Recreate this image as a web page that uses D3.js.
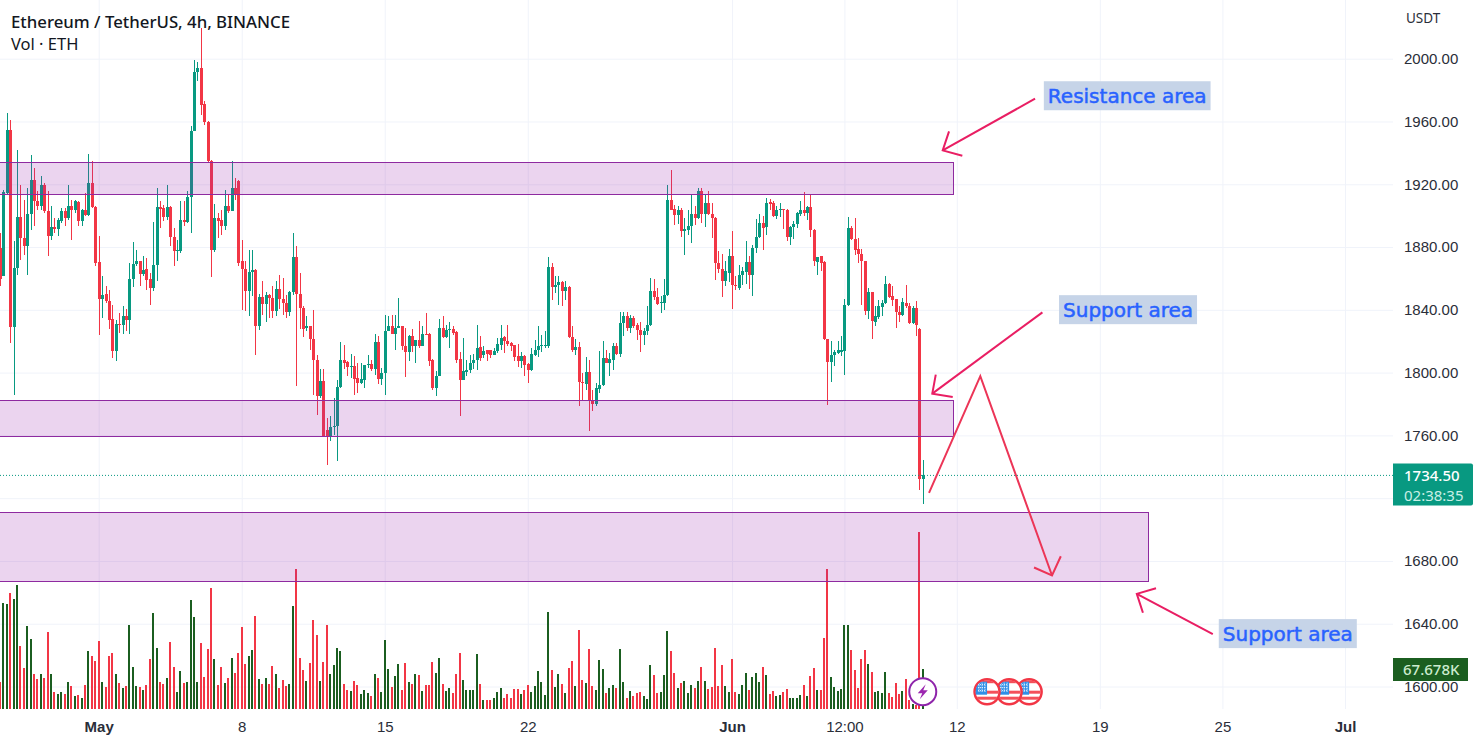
<!DOCTYPE html>
<html>
<head>
<meta charset="utf-8">
<title>ETHUSDT 4h</title>
<script src="https://cdn.jsdelivr.net/npm/d3@7"></script>
<style>
    html, body { margin: 0; padding: 0; background: #fff; }
    svg { display: block; font-family: "Noto Sans", sans-serif; }
    .grid line { stroke: #f0f3fa; }
    .grid .domain { display: none; }
    .axis .domain, .axis line { display: none; }
    .axis text { fill: #2a2e39; font-size: 15px; }
</style>
</head>
<body>
<svg id="chart" width="1479" height="747"></svg>
<script>
// candles, 4h, first one is 29 bars before 1 May
const firstBarDay = -29 / 6;
const opens = [
    1879.4,1861.8,1914.5,1954.8,1828.9,1866.7,1899.2,1886,1880.9,1901.3,
    1923,1909.6,1906,1919.8,1902.8,1887.3,1892.6,1891.5,1896.4,1903.2,
    1898.5,1906.4,1903.4,1908.5,1896.4,1903.9,1900.7,1920.8,1905.5,1870.5,
    1847,1850.3,1845.5,1834.2,1813.6,1831.2,1830.6,1835.9,1833.8,1859.7,
    1869.2,1871,1863.1,1866,1859.7,1854,1868.8,1905.5,1904.9,1899.2,
    1905.5,1886.4,1877.3,1877.3,1897.5,1895.8,1911.9,1954.2,1991.5,1994.1,
    1971.1,1959.7,1934.6,1878,1898.5,1897.5,1893.2,1906.4,1902.8,1917.7,
    1921.9,1871.3,1866,1851.8,1863.9,1865.6,1829.5,1848,1844,1849.7,
    1847.6,1839.5,1853.3,1846.9,1844.4,1838.4,1851.4,1873.7,1850.1,1841.2,
    1828.5,1829.5,1821.5,1808.3,1785,1794.5,1763.7,1759.9,1765.4,1765.8,
    1790.9,1808.3,1806.6,1803.4,1804.5,1796.6,1793.4,1795.6,1804.7,1805.7,
    1802,1819.5,1796.2,1799.8,1826.8,1829.5,1824.9,1828.7,1829.5,1817.2,
    1813.4,1823.6,1816.8,1821,1817.2,1824.9,1824.6,1808.3,1790.3,1797.7,
    1828.5,1822.5,1826.9,1827.8,1825.9,1808.7,1795.6,1800.6,1801.5,1806.2,
    1807.9,1816.2,1811.5,1814.1,1814.1,1811.5,1813.6,1817.9,1822.5,1820,
    1818.7,1817.7,1810.4,1807.7,1810.4,1805.6,1801.5,1811.5,1814.3,1816.8,
    1817.2,1817.2,1867.1,1854.4,1855.5,1858,1851.8,1854.6,1822.8,1814.3,
    1816.4,1793.9,1793,1800.5,1782.8,1779.7,1789.8,1792,1809.4,1805.8,
    1808.3,1817.2,1812.1,1831.7,1836.3,1828.5,1834.9,1830.6,1827.4,1823.8,
    1826.4,1830.2,1851.8,1848.2,1844.4,1844.4,1849.7,1909.8,1904.3,1900.2,
    1903.9,1890,1891.1,1893.7,1901.1,1898.3,1916,1901.1,1908.1,1901.1,
    1898.5,1869.9,1866,1858.2,1863.5,1874.6,1855.9,1854,1862,1863.9,
    1870.3,1862,1879.4,1886.2,1895.4,1892.6,1908.5,1908.1,1900,1903.4,
    1904.3,1903.9,1886.2,1892.6,1894.7,1901.1,1903.9,1901.7,1905.6,1891.1,
    1870.3,1874.1,1870.3,1821.5,1806.8,1810.9,1812.6,1813.4,1813.6,1842.9,
    1892.2,1885.2,1878.8,1875.6,1871.4,1839.1,1851.2,1832.3,1835.3,1841.9,
    1844.4,1856.7,1848.7,1847,1838.7,1837,1844.4,1842.7,1831.7,1841.2,
    1827.9,1732.3
];
const highs = [
    1889,1916.6,1965.4,1961.2,1883.7,1942.1,1919.8,1910.2,1917.7,1938.9,
    1930.4,1915.5,1925.1,1920.8,1915.5,1906,1898.5,1898.5,1904.9,1904.9,
    1919.8,1910.2,1910.2,1909.2,1904,1914.5,1939.5,1934.6,1906,1887.3,
    1861.4,1855,1852.9,1843.3,1833.8,1838,1842.3,1840.6,1869.9,1883,
    1878,1871,1874.1,1873,1863.5,1895.8,1917.7,1909.2,1907,1919.8,
    1906,1892.2,1884.7,1909.2,1909.2,1915.5,1956.9,1999.4,1997.9,2019.6,
    1972.8,1960.1,1935.7,1907.7,1901.7,1903.9,1916.2,1913.4,1934.6,1924,
    1923,1884.7,1870.9,1878.4,1877.9,1866,1850.1,1858.2,1851.4,1850.1,
    1855.4,1858.6,1862.4,1860.3,1849.7,1851.8,1889,1880.9,1863.5,1842.3,
    1836.3,1830,1839.7,1811.5,1802,1802.4,1771.1,1772.6,1783.9,1795.6,
    1819.3,1817.9,1807.2,1812.1,1810.8,1806.2,1806.2,1805.1,1811,1808.3,
    1824.6,1823.2,1803,1837,1835.9,1837,1837,1847.6,1830,1828.5,
    1824.2,1827.8,1821,1833.1,1829.5,1838,1825.3,1808.7,1800.9,1834.2,
    1836.3,1830.6,1832.3,1830,1826.3,1813,1822.1,1808.3,1811.5,1812.1,
    1830.6,1823.2,1816.8,1814.7,1814.3,1815.7,1822.1,1830.2,1823.2,1830.2,
    1819.4,1817.9,1818.5,1813,1811.5,1806.2,1815.7,1821,1829.6,1824.2,
    1826.4,1873.5,1869.9,1861.4,1861.4,1858.2,1858.2,1855,1829.6,1821.7,
    1819.4,1800,1810,1808.3,1789.2,1793.5,1813.6,1820,1814.7,1812.6,
    1818.9,1818.9,1838.5,1838.5,1838.5,1837,1835.9,1831.7,1832.1,1828.5,
    1842.3,1860.3,1859.7,1854,1848.7,1859.7,1919.8,1928.9,1907,1906,
    1904.9,1898.5,1903.4,1913.4,1906,1917.7,1917.7,1913.4,1915.5,1908.1,
    1899.2,1877.3,1875.8,1870.9,1878.8,1890,1861.8,1868.8,1867.3,1883.7,
    1874.6,1881.6,1897.9,1901.3,1899.6,1911.3,1910.6,1909.2,1906,1908.1,
    1904.5,1904.3,1893.2,1896.4,1902.2,1909.2,1915.1,1906,1913.4,1891.5,
    1873.7,1874.6,1870.9,1821.7,1820,1814.7,1820,1823.6,1847,1899.2,
    1893.2,1898.5,1885.8,1878.8,1871.4,1854,1851.2,1842.3,1846.5,1846.5,
    1861.4,1857.2,1855,1847,1842.3,1847.6,1856.1,1844.4,1842.3,1845.5,
    1828.5,1744
];
const lows = [
    1855,1861.4,1914,1818.9,1786,1862.5,1872,1875.2,1862.5,1891.1,
    1893.2,1903.9,1903.9,1901.7,1874.6,1884.3,1889,1886.9,1895.4,1893.2,
    1897.5,1884.3,1901.7,1893.2,1893.2,1899.6,1899.6,1904.9,1867.8,1824.2,
    1834.9,1844.4,1827.8,1809.4,1807.3,1825.3,1824.7,1826.4,1824.7,1854.6,
    1867.8,1855,1861.4,1852.9,1843.3,1851.8,1858.2,1892.2,1896.4,1897.5,
    1880.5,1867.8,1871,1876.2,1893.2,1895,1889,1953.7,1985.6,1964.4,
    1958,1933.6,1861,1876.7,1885.6,1887.9,1891.1,1901.7,1902.8,1910.2,
    1867.8,1840.1,1839,1835.9,1848.6,1811.5,1827.4,1837,1832,1834.8,
    1834.8,1835.9,1840.6,1837,1834.8,1835.9,1849.7,1791.3,1827.8,1822.7,
    1826.3,1814.7,1786,1773.3,1783.9,1759.5,1741,1756.3,1760.5,1743.5,
    1790.3,1802,1797.7,1796.6,1786,1787.1,1793,1790.3,1803,1800.9,
    1798.7,1792.8,1792.4,1786,1826.3,1824.9,1814.7,1828.5,1814.7,1797,
    1807.2,1813,1806.2,1815.7,1816.8,1824.2,1804,1789.2,1785,1797.7,
    1822.1,1822.1,1815.7,1824.2,1806.2,1772.2,1795.6,1797.7,1799.8,1802,
    1801.5,1807.7,1809.4,1807.7,1809.4,1811.5,1812.6,1814.7,1812.6,1816.8,
    1813.6,1807.3,1803.7,1803,1798.1,1793.5,1800.9,1810.4,1810,1813,
    1815.7,1815.7,1846.5,1850.8,1843.3,1842.7,1846.5,1822.1,1813,1811.5,
    1778.6,1781.8,1789.2,1762.7,1775.4,1778.6,1787.1,1791.3,1805.8,1797.7,
    1801.9,1811.5,1810,1823.6,1826.4,1825.3,1828.5,1821,1813,1817.9,
    1824.2,1830,1846.5,1843.3,1838,1840.2,1848.7,1903.4,1894.3,1894.7,
    1886.4,1874.8,1887.9,1882.6,1894.3,1897.9,1895.4,1892.6,1900.7,1885.8,
    1858.8,1863.5,1848,1855,1857.6,1840.8,1852.5,1852.9,1855.5,1856.7,
    1853.3,1848.7,1876.3,1885.8,1878,1887.9,1903.4,1899.2,1897.9,1899.2,
    1891.5,1883.7,1881.6,1885.2,1892.2,1899.6,1900,1897,1886.2,1867.8,
    1862.5,1864.6,1820.6,1779.2,1793.9,1804.1,1812.1,1810.4,1798.3,1842.7,
    1884.7,1875.2,1869.9,1843.3,1837,1834.2,1821.7,1829.6,1834.2,1835.9,
    1844,1847.6,1842.3,1828.5,1832.1,1835.9,1841.2,1831.2,1831.2,1823.2,
    1725.5,1716
];
const closes = [
    1859.7,1914.9,1954.8,1828.9,1866.7,1899.2,1885.6,1880.9,1901.3,1923,
    1909.2,1906,1919.8,1902.8,1887.3,1892.6,1891.5,1897.1,1903.2,1898.5,
    1906.4,1903.4,1909.2,1896.4,1903.9,1900.7,1920.8,1905.5,1869.9,1847,
    1849.7,1845.5,1833.8,1813.6,1831.2,1830.6,1835.9,1833.8,1859.7,1869.2,
    1871,1863.1,1865.6,1859.3,1854,1868.8,1905.5,1904.5,1899.2,1905.5,
    1886.4,1877.3,1878,1897.5,1895.8,1911.9,1954.2,1991.5,1994.1,1970.7,
    1959.7,1934.6,1878.4,1898.5,1896.4,1893.2,1906.4,1902.8,1917.7,1913.4,
    1869.9,1866,1851.8,1863.9,1865.6,1829.5,1848,1844,1849.7,1847.6,
    1839.5,1853.3,1846.9,1844.4,1838.4,1851.4,1873.7,1850.3,1841.2,1827.8,
    1829.5,1821.5,1807.9,1785,1794.5,1759.9,1759.9,1765.4,1765.8,1790.9,
    1808.3,1806.2,1803.4,1804,1796.2,1793.4,1796.2,1804.7,1805.7,1802,
    1819.5,1796.2,1799.8,1826.8,1829.5,1824.9,1828.5,1829.5,1816.8,1813.4,
    1823.6,1816.8,1821,1817.2,1824.6,1824.2,1807.7,1790.3,1797.7,1828.5,
    1822.5,1827.4,1827.8,1825.3,1808.3,1795.6,1800.9,1801.5,1806.2,1808.3,
    1815.7,1809.4,1813.6,1812.1,1811.5,1813.6,1818.3,1822.1,1820,1818.3,
    1817.2,1809.8,1807.7,1810.4,1805.1,1801.5,1812.1,1814.7,1816.8,1817.7,
    1817.9,1867.1,1854.6,1855.9,1858,1851.8,1854.6,1822.8,1814.3,1816.4,
    1793.9,1793.5,1800.5,1782.4,1779.7,1790.3,1792.2,1809.4,1806.2,1808.7,
    1817.2,1812.1,1831.7,1836.3,1828.5,1834.9,1830,1827,1823.8,1826.8,
    1830.6,1851.8,1848,1844,1845,1849.7,1909.8,1903.9,1900.2,1903.9,
    1890,1891.5,1893.7,1901.1,1898.3,1916,1901.1,1908.1,1901.1,1898.3,
    1869.9,1866,1858.2,1864.6,1874.6,1855.5,1855,1862.5,1864.6,1870.3,
    1862,1879.4,1886.2,1895.4,1892.2,1908.1,1907.5,1900,1903.9,1904.3,
    1903.4,1886.2,1892.8,1894.9,1901.7,1903.9,1901.7,1905.6,1890.7,1870.9,
    1873.7,1869.9,1821.5,1806.8,1811.5,1813,1814.1,1814.1,1843.3,1892.2,
    1885.2,1878,1875.6,1870.9,1839.1,1851.2,1832.7,1835.9,1842.3,1844.4,
    1856.7,1848.2,1846.5,1838.5,1837,1844.8,1842.3,1831.7,1841.2,1830.6,
    1732.3,1734.5
];
// volume in thousands of ETH
const volumes = [
    45.7,179.9,178.2,196.3,186.7,209.2,107.2,69.9,139.9,119,
    59.8,51.3,58.7,53,130.8,58.7,28.2,25.9,28.2,24.8,
    45.1,38.4,21.4,23.1,19.2,40,98.1,89.1,80.7,114.5,
    45.1,37.2,89.1,94.8,58.7,43.4,35,38.4,141.6,70.5,
    38.4,36.7,31.6,40,84,161.9,102.6,45.1,41.7,51.9,
    112.8,70.5,28.2,63.7,43.4,45.1,183.9,155.1,45.1,111.1,
    53.6,101,204.2,84,40,70.5,43.4,51.9,85.7,60.3,
    94.2,138.2,75.6,89.1,99.3,156.8,50.2,41.7,51.9,41.7,
    72.2,58.7,35,48.5,38.4,41.7,173.7,236.3,85.7,65.4,
    46.8,77.3,150,124.6,46.8,79,141.6,58.7,73.9,102.6,
    97.6,41.7,31.6,29.9,46.8,40,24.8,31.6,26.5,21.4,
    58.7,51.9,28.2,116.2,67.1,36.7,55.3,75.6,31.6,77.3,
    45.1,41.7,58.7,57,29.9,40,40,79,60.3,85.7,
    41.7,29.9,35,26.5,58.7,94.2,48.5,31.6,31.6,31.6,
    92.5,41.7,14.7,15.8,15.8,18,28.2,35,18,24.8,
    18,33.3,33.3,24.8,31.6,40,28.2,38.4,63.7,45.1,
    23.1,163.6,65.4,37.2,58.7,41.7,26.5,68.8,80.7,38.4,
    133.1,48.5,43.4,101,38.4,31.6,82.3,67.1,26.5,35,
    40,35,101,45.1,18,29.9,21.4,26.5,28.2,21.4,
    16.4,73.9,57,26.5,28.2,57,131.4,97.6,60.3,35,
    43.4,46.8,26.5,40,35,46.8,70.5,46.8,33.3,36.7,
    102.6,38.4,73.9,38.4,28.2,84,28.2,24.8,40,60.3,
    31.6,53.6,60.3,45.1,70.5,57,24.8,29.9,21.4,23.1,
    28.2,33.3,18,18,18,23.1,40,21.4,55.3,68.8,
    31.6,31.6,119.6,236.3,53.6,36.7,29.9,33.3,141.6,141.6,
    99.3,65.4,35,84,99.3,75.6,62,28.2,29.9,26.5,
    62,26.5,19.7,43.4,24.8,29.9,50.2,14.7,9,6.2,
    299,67.678
];

const priceTicks = [2000, 1960, 1920, 1880, 1840, 1800, 1760, 1720, 1680, 1640, 1600];
// 1720 has a gridline but its label sits behind the price tag
const priceLabels = [2000, 1960, 1920, 1880, 1840, 1800, 1760, 1680, 1640, 1600];
// days counted from 1 May
const timeTickDays = [0, 7, 14, 21, 31, 36.5, 42, 49, 55, 61];
const timeTickLabels = ["May", "8", "15", "22", "Jun", "12:00", "12", "19", "25", "Jul"];
const boldTicks = ["May", "Jun", "Jul"];

// rectangles drawn by hand: end day, top price, bottom price
const zoneEnds = [41.82, 41.82, 51.37];
const zoneTops = [1934.4, 1782.8, 1711.5];
const zoneBottoms = [1914, 1759.9, 1667.5];

// arrows as [day, price] polylines, last point is the tip
const arrowShafts = [
    [[45.83, 1974.5], [41.31, 1941.6]],
    [[46.19, 1838.4], [40.80, 1786.6]],
    [[40.64, 1723.4], [43.15, 1797.7], [46.66, 1670.7]],
    [[54.53, 1633.3], [50.81, 1659]]
];
const arrowHeads = [
    [[41.62, 1953.7], [41.31, 1941.6], [42.27, 1938.2]],
    [[40.97, 1798.7], [40.80, 1786.6], [41.80, 1784.5]],
    [[45.78, 1675.8], [46.66, 1670.7], [47.09, 1683]],
    [[51.75, 1662.6], [50.81, 1659], [51.11, 1647]]
];

const noteTexts = ["Resistance area", "Support area", "Support area"];
const noteDays = [50.34, 50.38, 58.2];
const notePrices = [1976.4, 1840.1, 1633.7];

const eventDays = [45.54, 44.56, 43.48];   // US news markers, drawn back to front
const lastPrice = 1734.5;

const width = 1479, height = 747;
const paneRight = 1393, paneBottom = 709;

const day0 = Date.UTC(2023, 4, 1);
const toDate = d => new Date(day0 + d * 864e5);

const x = d3.scaleUtc().domain([toDate(0), toDate(61)]).range([98.7, 1345]);
const y = d3.scaleLinear().domain([1600, 2000]).range([686.5, 58.7]);
const yVol = d3.scaleLinear().domain([0, 300]).range([paneBottom, paneBottom - 300 / 1.692]);
const px = p => [x(toDate(p[0])), y(p[1])];

const candles = opens.map((o, i) => ({
    date: toDate(firstBarDay + i / 6),
    open: o, high: highs[i], low: lows[i], close: closes[i], vol: volumes[i]
}));

const up = "#089981", down = "#f23645", volUp = "#1b5e20";
const svg = d3.select("#chart");
svg.append("rect").attr("width", width).attr("height", height).attr("fill", "#fff");

// grid
svg.append("g").attr("class", "grid")
    .attr("transform", `translate(0,${paneBottom})`)
    .call(d3.axisBottom(x).tickValues(timeTickDays.map(toDate)).tickSize(-paneBottom).tickFormat(""));
svg.append("g").attr("class", "grid")
    .call(d3.axisRight(y).tickValues(priceTicks).tickSize(paneRight).tickFormat(""));

// volume
svg.append("g").attr("shape-rendering", "crispEdges")
    .selectAll("rect").data(candles).join("rect")
    .attr("x", d => Math.round(x(d.date)) - 1)
    .attr("width", 2)
    .attr("y", d => yVol(d.vol))
    .attr("height", d => paneBottom - yVol(d.vol))
    .attr("fill", d => d.close >= d.open ? volUp : down);

// candles
const bars = svg.append("g").attr("shape-rendering", "crispEdges")
    .selectAll("g").data(candles).join("g")
    .attr("fill", d => d.close >= d.open ? up : down);
bars.append("rect")
    .attr("x", d => Math.round(x(d.date)))
    .attr("width", 1)
    .attr("y", d => y(d.high))
    .attr("height", d => y(d.low) - y(d.high));
bars.append("rect")
    .attr("x", d => Math.round(x(d.date)) - 1)
    .attr("width", 3)
    .attr("y", d => y(Math.max(d.open, d.close)))
    .attr("height", d => Math.max(1, Math.abs(y(d.open) - y(d.close))));

// last price line
svg.append("line")
    .attr("x1", 0).attr("x2", paneRight)
    .attr("y1", y(lastPrice)).attr("y2", y(lastPrice))
    .attr("stroke", up).attr("stroke-dasharray", "1 2");

// zones
svg.append("g").attr("shape-rendering", "crispEdges")
    .selectAll("rect").data(zoneEnds).join("rect")
    .attr("x", -2)
    .attr("width", d => x(toDate(d)) + 2)
    .attr("y", (d, i) => y(zoneTops[i]) + 0.5)
    .attr("height", (d, i) => y(zoneBottoms[i]) - y(zoneTops[i]))
    .attr("fill", "rgba(156,39,176,0.2)")
    .attr("stroke", "#8e2aa0");

// arrows
const line = d3.line();
const arrows = svg.append("g").attr("fill", "none").attr("stroke-linejoin", "miter");
arrows.selectAll(".shaft").data(arrowShafts).join("path").attr("class", "shaft")
    .attr("d", d => line(d.map(px)))
    .attr("stroke", (d, i) => i == 2 ? "#ec3557" : "#e91e63").attr("stroke-width", 2);
arrows.selectAll(".head").data(arrowHeads).join("path").attr("class", "head")
    .attr("d", d => line(d.map(px)))
    .attr("stroke", (d, i) => i == 2 ? "#ec3557" : "#e91e63").attr("stroke-width", 2);

// notes
const notes = svg.append("g").selectAll("g").data(noteTexts).join("g")
    .attr("transform", (d, i) => `translate(${x(toDate(noteDays[i]))},${y(notePrices[i])})`);
notes.append("rect").attr("fill", "#c6d4e8");
notes.append("text")
    .attr("text-anchor", "middle").attr("dy", "0.35em")
    .attr("font-family", "'DejaVu Sans', sans-serif")
    .attr("font-size", 20).attr("fill", "#2962ff")
    .attr("stroke", "#2962ff").attr("stroke-width", 0.5)
    .text(d => d);
notes.each(function () {
    const b = d3.select(this).select("text").node().getBBox();
    d3.select(this).select("rect")
        .attr("x", b.x - 4).attr("width", b.width + 8)
        .attr("y", -14.5).attr("height", 29);
});

// axes
svg.append("g").attr("class", "axis")
    .attr("transform", `translate(1404,0)`)
    .call(d3.axisRight(y).tickValues(priceLabels).tickSize(0).tickPadding(0).tickFormat(d => d3.format(".2f")(d)));
const xAxis = svg.append("g").attr("class", "axis")
    .attr("transform", `translate(0,${paneBottom})`)
    .call(d3.axisBottom(x).tickValues(timeTickDays.map(toDate)).tickSize(0).tickPadding(12)
        .tickFormat((d, i) => timeTickLabels[i]));
xAxis.selectAll("text").attr("font-weight", (d, i) => boldTicks.includes(timeTickLabels[i]) ? 600 : 400);

svg.append("text").attr("x", 1406).attr("y", 23)
    .attr("font-size", 13.5).attr("fill", "#2a2e39").text("USDT");

// legend
svg.append("text").attr("x", 11).attr("y", 28)
    .attr("font-size", 16.8).attr("font-weight", 500).attr("fill", "#131722")
    .text("Ethereum / TetherUS, 4h, BINANCE");
svg.append("text").attr("x", 11).attr("y", 50)
    .attr("font-size", 16.5).attr("fill", "#131722")
    .text("Vol · ETH");

// price tag
const tagPath = (x0, y0, w, h, r) => `M${x0},${y0}h${w - r}q${r},0 ${r},${r}v${h - 2 * r}q0,${r} ${-r},${r}h${r - w}z`;
const tagY = y(lastPrice);
svg.append("path").attr("d", tagPath(paneRight, tagY - 12, 80, 42, 2)).attr("fill", up);
svg.append("text").attr("x", 1404).attr("y", tagY + 5.5)
    .attr("font-size", 15).attr("font-weight", 500).attr("fill", "#fff").text(d3.format(".2f")(lastPrice));
svg.append("text").attr("x", 1404).attr("y", tagY + 25.5)
    .attr("font-size", 15).attr("fill", "#c9efe6").text("02:38:35");

// volume tag
const volTagY = yVol(volumes[volumes.length - 1]);
svg.append("rect").attr("x", paneRight).attr("y", volTagY - 11).attr("width", 75).attr("height", 23).attr("fill", volUp);
svg.append("text").attr("x", 1403).attr("y", volTagY + 6)
    .attr("font-size", 15).attr("font-weight", 500).attr("fill", "#cdeccf").text("67.678K");

// markers at the foot of the pane
const markerY = 691.7;
const bolt = svg.append("g").attr("transform", `translate(${x(candles[candles.length - 1].date)},${markerY})`);
bolt.append("circle").attr("r", 13.5).attr("fill", "#fff").attr("stroke", "#8e24aa").attr("stroke-width", 2);
bolt.append("path").attr("d", "M3,-7.5 L-5,1.5 L-0.5,1.5 L-3,7.5 L5,-1.5 L0.5,-1.5 Z").attr("fill", "#9c27b0");

const defs = svg.append("defs");
defs.append("clipPath").attr("id", "flagClip").append("circle").attr("r", 11.5);
const flags = svg.append("g").selectAll("g").data(eventDays).join("g")
    .attr("transform", d => `translate(${x(toDate(d))},${markerY})`);
flags.append("circle").attr("r", 12.5).attr("fill", "#fff").attr("stroke", "#f23645").attr("stroke-width", 2.5);
const flagInner = flags.append("g").attr("clip-path", "url(#flagClip)");
flagInner.append("rect").attr("x", -12).attr("y", -1).attr("width", 24).attr("height", 3).attr("fill", "#f4505a");
flagInner.append("rect").attr("x", -12).attr("y", 5).attr("width", 24).attr("height", 3).attr("fill", "#f4505a");
flagInner.append("rect").attr("x", -12).attr("y", -12).attr("width", 24).attr("height", 3.5).attr("fill", "#f4505a");
flagInner.append("rect").attr("x", -12).attr("y", -10).attr("width", 12).attr("height", 13).attr("fill", "#2f8fe8");
flagInner.append("path").attr("d", "M-9,-7h7M-9,-4h7M-9,-1h7M-8,-9v10M-5,-9v10M-2,-9v10")
    .attr("stroke", "#fff").attr("stroke-width", 1).attr("stroke-dasharray", "1 1").attr("fill", "none");
</script>
</body>
</html>
